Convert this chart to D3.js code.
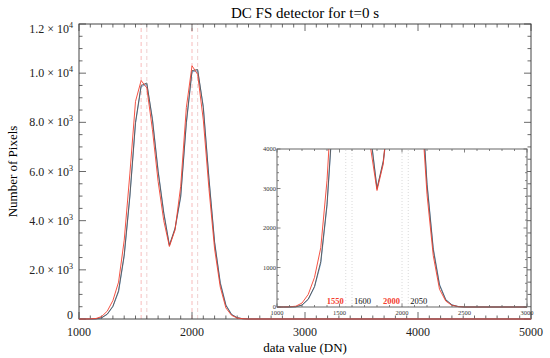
<!DOCTYPE html>
<html lang="en">
<head>
<meta charset="utf-8">
<style>
  body { margin: 0; background: white; }
  svg { font-family: 'Liberation Serif', 'DejaVu Serif', serif; background: white; }
</style>
</head>
<body>
<div id="chart"></div>
<script src="https://cdn.jsdelivr.net/npm/d3@7"></script>
<script>
// histogram bins (DN) and pixel counts
var bins     = [1000,1050,1100,1150,1200,1250,1300,1350,1400,1450,1500,1550,1600,1650,1700,1750,1800,1850,1900,1950,2000,2050,2100,2150,2200,2250,2300,2350,2400,2450,2500,5000];
var redVals  = [0,0,5,20,100,320,750,1500,3200,5900,8850,9700,9400,7700,5600,4000,2950,3620,5400,8600,10300,9950,8100,5300,2850,1300,450,150,40,10,0,0];
var blackVals= [0,0,0,5,50,200,520,1150,2600,5000,8000,9500,9600,8100,6000,4300,3000,3700,5000,8000,10100,10150,8600,5700,3100,1450,550,180,50,10,0,0];
var blueVals = [0,0,0,5,45,190,500,1100,2550,4950,7950,9450,9550,8150,6050,4350,3000,3650,4950,7950,10050,10100,8650,5750,3150,1500,580,190,55,12,0,0];

var markers   = [1550, 1600, 2000, 2050];
var markerRed = [true, false, true, false];

var yMajor = [0, 2000, 4000, 6000, 8000, 10000, 12000];
var yMant  = ["0", "2.0", "4.0", "6.0", "8.0", "1.0", "1.2"];
var yExp   = ["", "3", "3", "3", "3", "4", "4"];
var xMajor = [1000, 2000, 3000, 4000, 5000];

var insetXMajor = [1000, 1500, 2000, 2500, 3000];
var insetYMajor = [0, 1000, 2000, 3000, 4000];

var W = 550, H = 358;
var m = {left: 79, right: 531, top: 24, bottom: 319};

var svg = d3.select("#chart").append("svg")
  .attr("width", W).attr("height", H);

var x = d3.scaleLinear().domain([1000, 5000]).range([m.left, m.right]);
var y = d3.scaleLinear().domain([0, 12000]).range([m.bottom, m.top]);

var axisCol = "#444";
var redCol = "#f4402f", blueCol = "#6b9ccc", blackCol = "#555";

// title + axis labels
svg.append("text").attr("x", 305).attr("y", 18).attr("text-anchor", "middle")
  .style("font-size", "15px").text("DC FS detector for t=0 s");
svg.append("text").attr("x", 305).attr("y", 352).attr("text-anchor", "middle")
  .style("font-size", "13px").text("data value (DN)");
svg.append("text").attr("transform", "translate(17," + ((m.top + m.bottom) / 2) + ") rotate(-90)")
  .attr("text-anchor", "middle").style("font-size", "13px").text("Number of Pixels");

// dashed marker lines
markers.forEach(function(v, i) {
  svg.append("line")
    .attr("x1", x(v)).attr("x2", x(v)).attr("y1", m.bottom).attr("y2", m.top)
    .attr("stroke", markerRed[i] ? "#f6aaaa" : "#ebc4c4")
    .attr("stroke-width", 0.8).attr("stroke-dasharray", "4,3");
});

// frame and ticks
function frame(g, xs, ys, box, xMin, xMaj, yMin, yMaj, lMaj, lMin, col) {
  g.append("rect").attr("x", box.left).attr("y", box.top)
    .attr("width", box.right - box.left).attr("height", box.bottom - box.top)
    .attr("fill", "none").attr("stroke", col).attr("stroke-width", 1);
  var d0 = xs.domain();
  for (var v = d0[0]; v <= d0[1] + 1e-6; v += xMin) {
    var len = (Math.round(v) % xMaj === 0) ? lMaj : lMin;
    g.append("line").attr("x1", xs(v)).attr("x2", xs(v)).attr("y1", box.bottom).attr("y2", box.bottom - len).attr("stroke", col).attr("stroke-width", 0.8);
    g.append("line").attr("x1", xs(v)).attr("x2", xs(v)).attr("y1", box.top).attr("y2", box.top + len).attr("stroke", col).attr("stroke-width", 0.8);
  }
  var e0 = ys.domain();
  for (var u = e0[0]; u <= e0[1] + 1e-6; u += yMin) {
    var len2 = (Math.round(u) % yMaj === 0) ? lMaj : lMin;
    g.append("line").attr("y1", ys(u)).attr("y2", ys(u)).attr("x1", box.left).attr("x2", box.left + len2).attr("stroke", col).attr("stroke-width", 0.8);
    g.append("line").attr("y1", ys(u)).attr("y2", ys(u)).attr("x1", box.right).attr("x2", box.right - len2).attr("stroke", col).attr("stroke-width", 0.8);
  }
}

var main = svg.append("g");
frame(main, x, y, m, 100, 1000, 500, 2000, 7, 3.5, axisCol);

// y tick labels
yMajor.forEach(function(v, i) {
  var yy = y(v) + 4;
  if (i === 0) yy -= 4;
  if (i === yMajor.length - 1) yy += 5;
  var t = main.append("text").attr("x", 73).attr("y", yy).attr("text-anchor", "end")
    .attr("fill", "#222").style("font-size", "12px");
  if (yExp[i] === "") { t.text(yMant[i]); return; }
  t.append("tspan").text(yMant[i] + " \u00d7 10");
  t.append("tspan").attr("dy", -5).style("font-size", "8px").text(yExp[i]);
});
// x tick labels
xMajor.forEach(function(v) {
  main.append("text").attr("x", x(v)).attr("y", 336).attr("text-anchor", "middle")
    .attr("fill", "#222").style("font-size", "12px").text(v);
});

// curves
function drawCurves(g, xs, ys, clipId) {
  var line = d3.line().x(function(d) { return xs(d[0]); }).y(function(d) { return ys(d[1]); });
  [[blueVals, blueCol], [blackVals, blackCol], [redVals, redCol]].forEach(function(s) {
    var p = g.append("path")
      .datum(bins.map(function(b, i) { return [b, s[0][i]]; }))
      .attr("d", line).attr("fill", "none").attr("stroke", s[1]).attr("stroke-width", 0.9);
    if (clipId) p.attr("clip-path", "url(#" + clipId + ")");
  });
}
drawCurves(main, x, y, null);

// inset
var ib = {left: 277, right: 527, top: 149, bottom: 307};
var ix = d3.scaleLinear().domain([1000, 3000]).range([ib.left, ib.right]);
var iy = d3.scaleLinear().domain([0, 4000]).range([ib.bottom, ib.top]);

var inset = svg.append("g");
inset.append("rect").attr("x", ib.left).attr("y", ib.top)
  .attr("width", ib.right - ib.left).attr("height", ib.bottom - ib.top).attr("fill", "white");

svg.append("clipPath").attr("id", "insetClip").append("rect")
  .attr("x", ib.left).attr("y", ib.top).attr("width", ib.right - ib.left).attr("height", ib.bottom - ib.top + 1);

markers.forEach(function(v, i) {
  inset.append("line")
    .attr("x1", ix(v)).attr("x2", ix(v)).attr("y1", ib.bottom).attr("y2", ib.top)
    .attr("stroke", "#d0d0d0").attr("stroke-width", 0.8).attr("stroke-dasharray", "1,2");
  inset.append("text")
    .attr("x", markerRed[i] ? ix(v) - 2 : ix(v) + 2).attr("y", 304)
    .attr("text-anchor", markerRed[i] ? "end" : "start")
    .attr("fill", markerRed[i] ? redCol : "#111")
    .style("font-size", "8.5px").style("font-weight", markerRed[i] ? "bold" : "normal")
    .text(v);
});

drawCurves(inset, ix, iy, "insetClip");
frame(inset, ix, iy, ib, 100, 500, 200, 1000, 3.5, 2, "#666");

insetYMajor.forEach(function(v) {
  inset.append("text").attr("x", ib.left - 1).attr("y", iy(v) + 2).attr("text-anchor", "end")
    .attr("fill", "#333").style("font-size", "6.5px").text(v);
});
insetXMajor.forEach(function(v) {
  inset.append("text").attr("x", ix(v)).attr("y", 315).attr("text-anchor", "middle")
    .attr("fill", "#333").style("font-size", "6.5px").text(v);
});
</script>
</body>
</html>
